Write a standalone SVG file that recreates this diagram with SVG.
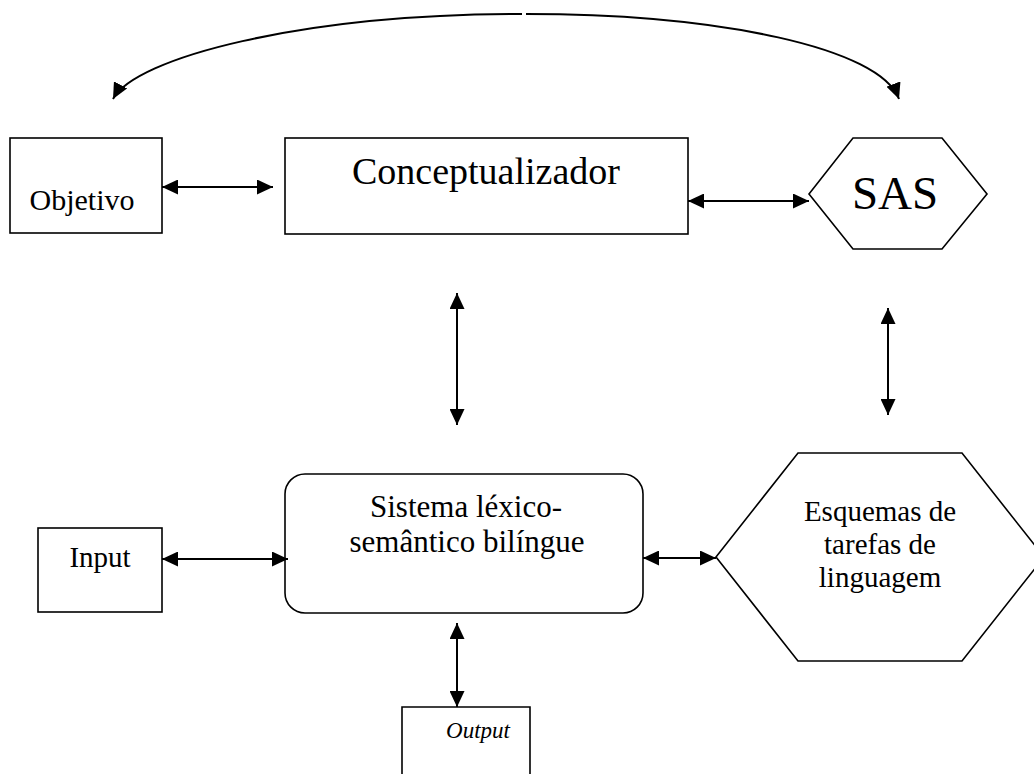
<svg xmlns="http://www.w3.org/2000/svg" width="1034" height="774" viewBox="0 0 1034 774">
<style>
.box{fill:#fff;stroke:#000;stroke-width:1.6}
.t{font-family:"Liberation Serif","Times New Roman",serif;fill:#000;text-anchor:middle}
.c{fill:none;stroke:#000;stroke-width:2}
</style>
<defs>
<marker id="ah" markerUnits="userSpaceOnUse" markerWidth="16" markerHeight="15" refX="16" refY="7.5" orient="auto-start-reverse" viewBox="0 0 16 15">
<path d="M0,0 L16,7.5 L0,15 z" fill="#000"/>
</marker>
</defs>
<rect width="1034" height="774" fill="#fff"/>
<g id="objetivo">
<rect class="box" x="10" y="138" width="152" height="95"/>
<text class="t" x="82" y="210" font-size="30">Objetivo</text>
</g>
<g id="conceptualizador">
<rect class="box" x="285" y="138" width="403" height="96"/>
<text class="t" x="486" y="184" font-size="38">Conceptualizador</text>
</g>
<g id="sas">
<polygon class="box" points="809,194 853,138 942,138 987,194 942,249 853,249"/>
<text class="t" x="895" y="209" font-size="47">SAS</text>
</g>
<g id="sistema">
<rect class="box" x="285" y="474" width="358" height="139" rx="20" ry="20"/>
<text class="t" x="466" y="517" font-size="31">Sistema léxico-</text>
<text class="t" x="467" y="552" font-size="31">semântico bilíngue</text>
</g>
<g id="input">
<rect class="box" x="38" y="528" width="124" height="84"/>
<text class="t" x="100" y="567" font-size="29">Input</text>
</g>
<g id="esquemas">
<polygon class="box" points="716,557 798,453 962,453 1044,557 962,661 798,661"/>
<text class="t" x="880" y="521" font-size="29">Esquemas de</text>
<text class="t" x="880" y="554" font-size="29">tarefas de</text>
<text class="t" x="880" y="587" font-size="29">linguagem</text>
</g>
<g id="output">
<path class="box" d="M402,774 L402,707 L530,707 L530,774"/>
<text class="t" x="478" y="738" font-size="23" font-style="italic">Output</text>
</g>
<g id="connectors">
<path class="c" d="M113,99 C135,58 300,14 522,14" marker-start="url(#ah)"/>
<path class="c" d="M526,14 C720,14 880,48 899,99" marker-end="url(#ah)"/>
<line class="c" x1="162" y1="187" x2="273" y2="187" marker-start="url(#ah)" marker-end="url(#ah)"/>
<line class="c" x1="688" y1="201" x2="809" y2="201" marker-start="url(#ah)" marker-end="url(#ah)"/>
<line class="c" x1="457" y1="293" x2="457" y2="425" marker-start="url(#ah)" marker-end="url(#ah)"/>
<line class="c" x1="888" y1="308" x2="888" y2="415" marker-start="url(#ah)" marker-end="url(#ah)"/>
<line class="c" x1="162" y1="559" x2="288" y2="559" marker-start="url(#ah)" marker-end="url(#ah)"/>
<line class="c" x1="643" y1="558" x2="716" y2="558" marker-start="url(#ah)" marker-end="url(#ah)"/>
<line class="c" x1="457" y1="623" x2="457" y2="707" marker-start="url(#ah)" marker-end="url(#ah)"/>
</g>
</svg>
